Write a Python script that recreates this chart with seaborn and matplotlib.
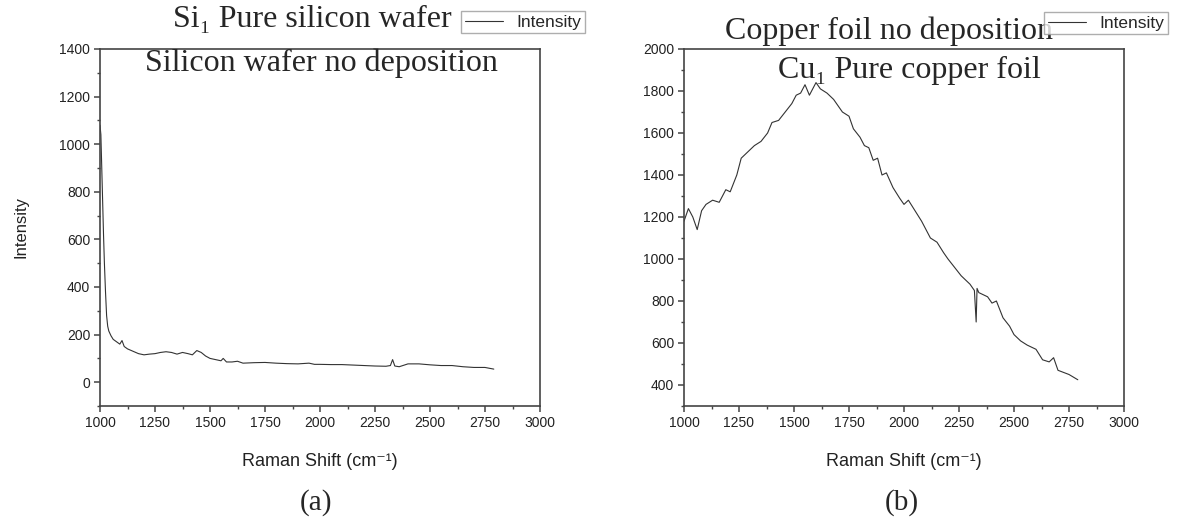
import matplotlib
matplotlib.use("Agg")
import matplotlib.pyplot as plt
import seaborn as sns
from matplotlib.ticker import MultipleLocator

# Raman spectra
si_shift = [1000, 1004, 1008, 1012, 1016, 1020, 1025, 1030, 1035, 1040, 1050, 1060, 1075,
            1090, 1100, 1110, 1125, 1150, 1175, 1200, 1225, 1250, 1275, 1300, 1325, 1350,
            1375, 1400, 1420, 1440, 1460, 1480, 1500, 1525, 1550, 1560, 1575, 1600, 1625,
            1650, 1700, 1750, 1800, 1850, 1900, 1950, 1975, 2000, 2050, 2100, 2150, 2200,
            2250, 2300, 2320, 2330, 2340, 2360, 2400, 2450, 2500, 2550, 2600, 2650, 2700,
            2750, 2790]
si_int = [1080, 1040, 900, 760, 620, 500, 380, 280, 235, 215, 195, 180, 170, 160, 175,
          150, 140, 130, 120, 115, 118, 120, 125, 128, 125, 118, 125, 120, 115, 133, 125,
          110, 100, 95, 90, 100, 85, 85, 88, 80, 82, 83, 80, 78, 77, 80, 75, 75, 74, 74,
          72, 70, 68, 67, 70, 95, 68, 65, 77, 77, 73, 70, 70, 65, 62, 62, 55]

cu_shift = [1000, 1020, 1040, 1060, 1080, 1100, 1130, 1160, 1190, 1210, 1240, 1260, 1290,
            1320, 1350, 1380, 1400, 1430, 1460, 1490, 1510, 1530, 1550, 1570, 1600, 1620,
            1650, 1680, 1700, 1720, 1750, 1770, 1800, 1820, 1840, 1860, 1880, 1900, 1920,
            1950, 1980, 2000, 2020, 2050, 2080, 2100, 2120, 2150, 2180, 2200, 2230, 2260,
            2300, 2320, 2328, 2332, 2340, 2380, 2400, 2420, 2450, 2480, 2500, 2530, 2560,
            2600, 2630, 2660, 2680, 2700, 2750, 2790]
cu_int = [1180, 1240, 1200, 1140, 1230, 1260, 1280, 1270, 1330, 1320, 1400, 1480, 1510,
          1540, 1560, 1600, 1650, 1660, 1700, 1740, 1780, 1790, 1830, 1780, 1840, 1810,
          1790, 1760, 1730, 1700, 1680, 1620, 1580, 1540, 1530, 1470, 1480, 1400, 1410,
          1340, 1290, 1260, 1280, 1230, 1180, 1140, 1100, 1080, 1030, 1000, 960, 920,
          880, 850, 700, 860, 840, 820, 790, 800, 720, 680, 640, 610, 590, 570, 520,
          510, 530, 470, 450, 425]

sns.set_theme(style="ticks")
plt.rcParams["font.family"] = ["Liberation Sans", "DejaVu Sans"]
serif = ["Liberation Serif", "DejaVu Serif"]
sans = ["Liberation Sans", "DejaVu Sans"]

W, H = 1179, 523
fig = plt.figure(figsize=(W / 100, H / 100), dpi=100)
ax1 = fig.add_axes([100 / W, 1 - 406 / H, 440 / W, 357 / H])
ax2 = fig.add_axes([684 / W, 1 - 406 / H, 440 / W, 357 / H])

line_col = "#333333"
sns.lineplot(x=si_shift, y=si_int, ax=ax1, color=line_col, lw=0.8, label="Intensity")
sns.lineplot(x=cu_shift, y=cu_int, ax=ax2, color=line_col, lw=0.8, label="Intensity")

for ax in (ax1, ax2):
    ax.set_xlim(1000, 3000)
    ax.xaxis.set_major_locator(MultipleLocator(250))
    ax.xaxis.set_minor_locator(MultipleLocator(125))
    ax.yaxis.set_major_locator(MultipleLocator(200))
    ax.yaxis.set_minor_locator(MultipleLocator(100))
    for s in ax.spines.values():
        s.set_visible(True)
        s.set_color("#444444")
        s.set_linewidth(1.2)
    ax.tick_params(which="major", direction="out", length=4, width=1.1,
                   color="#444444", labelsize=10, labelcolor="#222222", pad=3)
    ax.tick_params(which="minor", direction="out", length=2.5, width=1.0,
                   color="#444444")
    ax.set_xlabel("Raman Shift (cm\u207b\u00b9)", fontsize=13, family=sans,
                  color="#222222", labelpad=17)
    ax.get_legend().remove()

ax1.set_ylim(-100, 1400)
ax2.set_ylim(300, 2000)
ax1.set_ylabel("Intensity", fontsize=12, family=sans, color="#222222", labelpad=22)
ax2.set_ylabel("")

# legends sit above the frames, like the Origin export
h1, l1 = ax1.get_legend_handles_labels()
h2, l2 = ax2.get_legend_handles_labels()
for h, l, x, y in ((h1, l1, 585 / W, 1 - 11 / H), (h2, l2, 1168 / W, 1 - 12 / H)):
    leg = fig.legend(h, l, loc="upper right", bbox_to_anchor=(x, y), fontsize=12.5,
                     frameon=True, fancybox=False, edgecolor="#9a9a9a",
                     borderpad=0.2, handlelength=2.2, handletextpad=0.8,
                     borderaxespad=0)
    leg.get_frame().set_linewidth(1.0)

# titles and panel labels
title_kw = dict(family=serif, fontsize=23, ha="center", va="baseline")
fig.text(312 / W, 1 - 27 / H, "Si\u2081 Pure silicon wafer", **title_kw)
fig.text(321 / W, 1 - 71 / H, "Silicon wafer no deposition", **title_kw)
fig.text(889 / W, 1 - 39 / H, "Copper foil no deposition", **title_kw)
fig.text(909 / W, 1 - 78 / H, "Cu\u2081 Pure copper foil", **title_kw)
fig.text(316 / W, 1 - 503 / H, "(a)", family=serif, fontsize=21,
         ha="center", va="center")
fig.text(902 / W, 1 - 503 / H, "(b)", family=serif, fontsize=21,
         ha="center", va="center")

fig.savefig("out.png", dpi=100)
